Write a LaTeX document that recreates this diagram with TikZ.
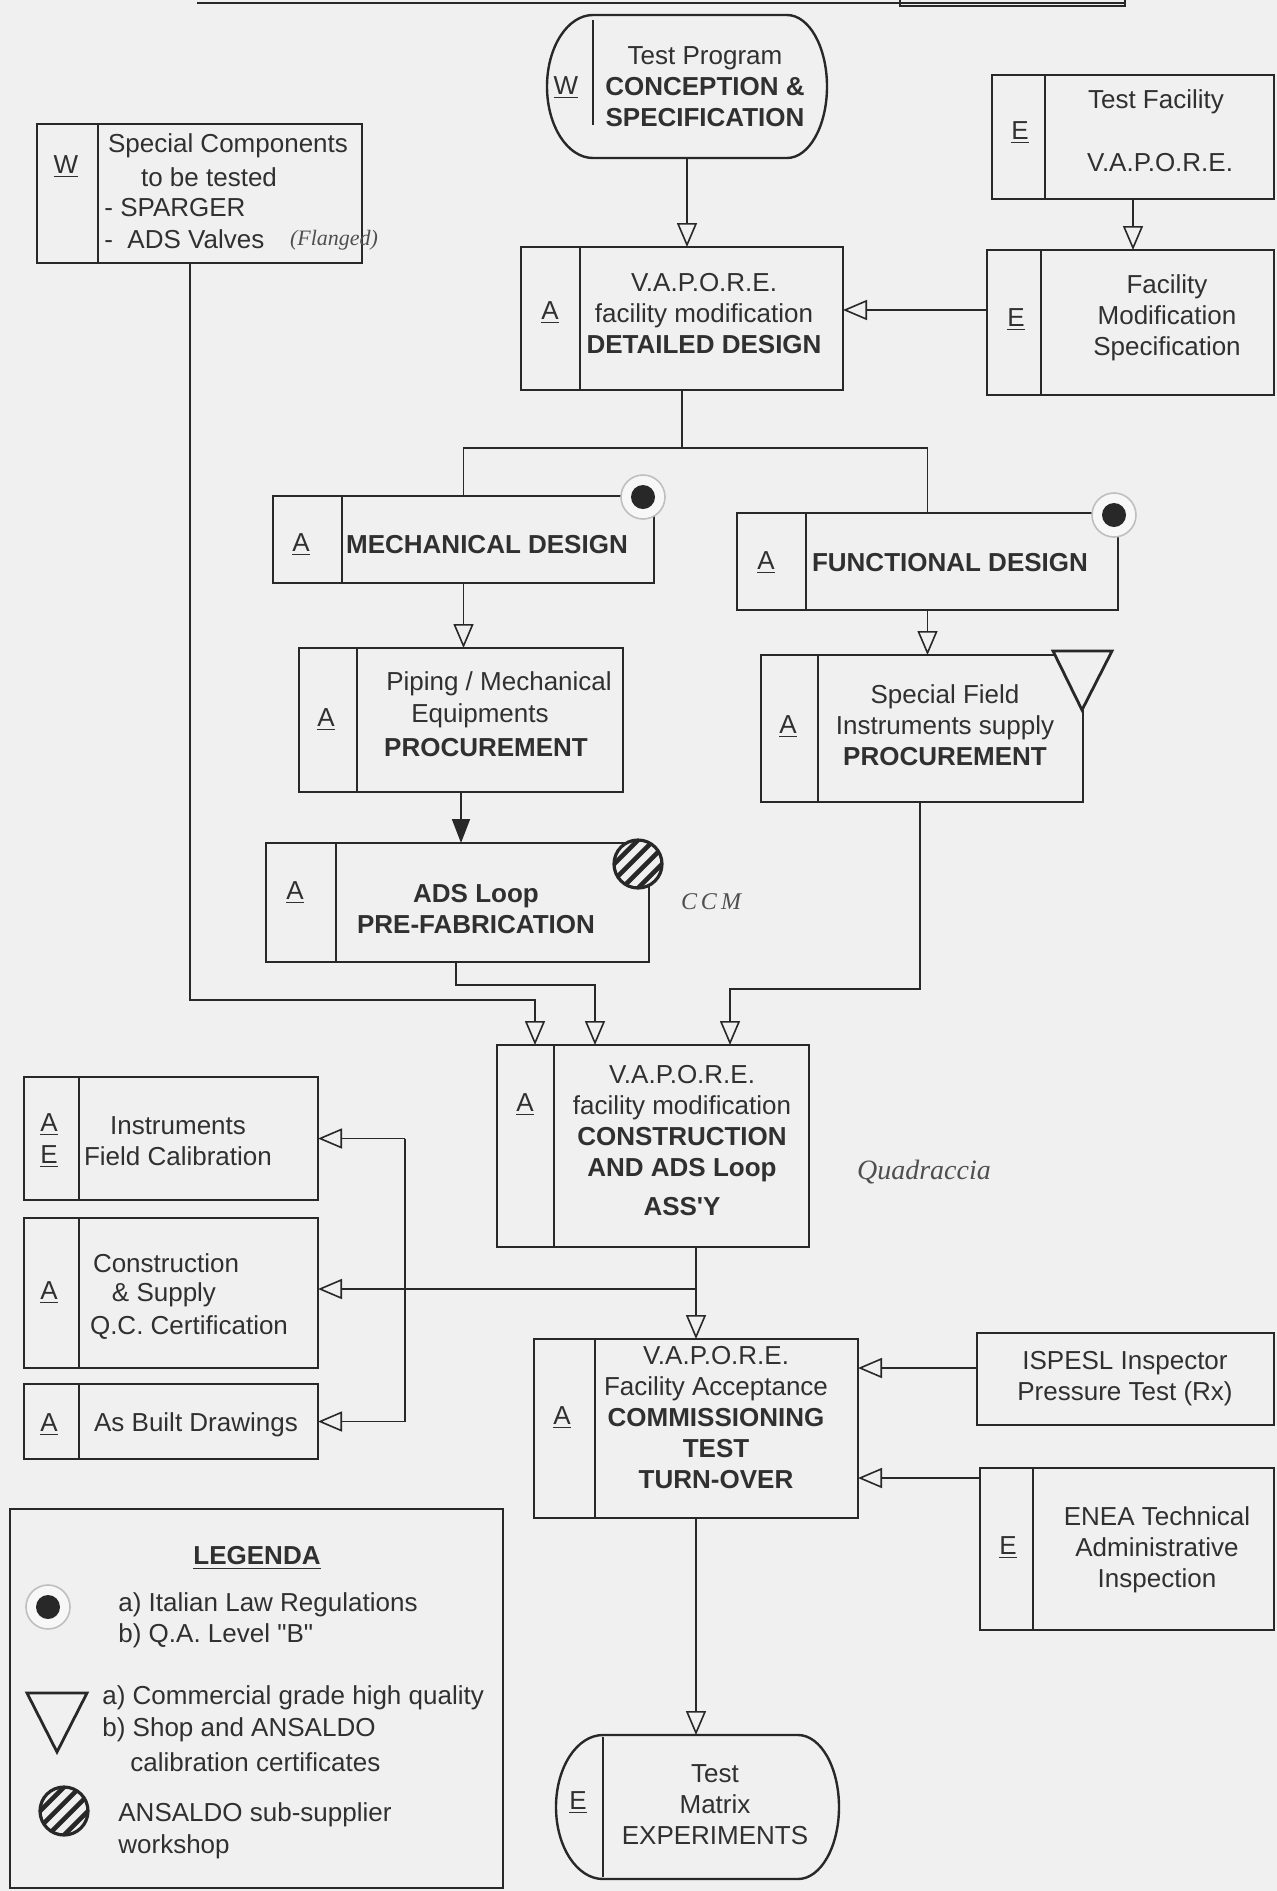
\documentclass[tikz,border=0pt]{standalone}
\usepackage{fontspec}
\setmainfont{Liberation Sans}
\newfontfamily\handfont{Liberation Serif}
\usetikzlibrary{arrows.meta,fit}
\definecolor{bg}{RGB}{240,240,240}
\definecolor{ink}{RGB}{40,40,40}
\definecolor{txtc}{RGB}{48,48,48}
\begin{document}
\begin{tikzpicture}[x=0.5pt,y=-0.5pt,
  box/.style={draw=ink, line width=1.2pt, inner sep=0pt, outer sep=0pt, rectangle},
  ghost/.style={inner sep=0pt, outer sep=0pt, rectangle},
  div/.style={draw=ink, line width=1.1pt},
  conn/.style={draw=ink, line width=0.9pt},
  oarr/.style={-{Triangle[open, length=12pt, width=10pt, line width=0.8pt]}},
  farr/.style={-{Triangle[length=12pt, width=9pt]}},
  txt/.style={text=txtc, font=\fontsize{13}{15.5}\selectfont, align=center, inner sep=0pt},
  btxt/.style={text=txtc, font=\bfseries\fontsize{13}{15.5}\selectfont, align=center, inner sep=0pt},
  ltxt/.style={text=txtc, font=\fontsize{13}{15.5}\selectfont, align=left, inner sep=0pt, anchor=west},
  lett/.style={text=txtc, font=\fontsize{13}{15.5}\selectfont, inner sep=0pt},
  hand/.style={text=txtc!85, font=\handfont\itshape\fontsize{13}{15}\selectfont, inner sep=0pt},
  hatchc/.pic={
    \fill[bg] (0,0) circle[radius=24];
    \begin{scope}
      \clip (0,0) circle[radius=24];
      \foreach \k in {-20,-12,-4,4,12,20}
        \draw[ink, line width=2.3pt] (-40+\k,40+\k) -- (40+\k,-40+\k);
    \end{scope}
    \draw[ink, line width=1.6pt] (0,0) circle[radius=24];
  },
  bulletc/.pic={
    \draw[black!25, fill=white!97!black, line width=0.8pt] (0,0) circle[radius=22];
    \fill[ink] (0,0) circle[radius=12];
  },
]
% background
\fill[bg] (0,0) rectangle (1277,1891);
\useasboundingbox (0,0) rectangle (1277,1891);

% cropped header rule
\draw[ink, line width=1pt] (197,3) -- (1125,3);
\draw[ink, line width=1.2pt] (900,0) -- (900,6) -- (1125,6) -- (1125,0);

% ---------------- boxes ----------------
% Test Program (oval)
\node[ghost, fit={(547,15)(827,158)}] (tp) {};
\draw[ink, line width=1.2pt] (593,15) -- (787,15)
  arc[start angle=-90, end angle=90, x radius=40, y radius=71.5] -- (593,158)
  arc[start angle=90, end angle=270, x radius=46, y radius=71.5] -- cycle;
\draw[div] (593,20) -- (593,125);
\node[lett] (tpl) at (566,88) {\underline{W}};
\node[txt] (tpt) at (705,87) {Test Program\\\textbf{CONCEPTION \&}\\\textbf{SPECIFICATION}};

% Special components
\node[box, fit={(37,124)(362,263)}] (sc) {};
\draw[div] (98,124) -- (98,263);
\node[lett] (scl) at (66,167) {\underline{W}};
\node[txt] (sct1) at (228,146) {Special Components};
\node[txt] (sct2) at (209,177) {to be tested};
\node[ltxt] (sct3) at (104,208) {- SPARGER};
\node[ltxt] (sct4) at (104,239) {-\ \ ADS Valves};
\node[hand, font=\handfont\itshape\fontsize{11}{12}\selectfont] (sct5) at (334,240) {(Flanged)};

% Test Facility
\node[box, fit={(992,75)(1274,199)}] (tf) {};
\draw[div] (1045,75) -- (1045,199);
\node[lett] (tfl) at (1020,133) {\underline{E}};
\node[txt] (tft1) at (1156,102) {Test Facility};
\node[txt] (tft2) at (1160,163) {V.A.P.O.R.E.};

% Detailed design
\node[box, fit={(521,247)(843,390)}] (dd) {};
\draw[div] (580,247) -- (580,390);
\node[lett] (ddl) at (550,313) {\underline{A}};
\node[txt] (ddt) at (704,314) {V.A.P.O.R.E.\\facility modification\\\textbf{DETAILED DESIGN}};

% Facility Modification Specification
\node[box, fit={(987,250)(1274,395)}] (fms) {};
\draw[div] (1041,250) -- (1041,395);
\node[lett] (fmsl) at (1016,320) {\underline{E}};
\node[txt] (fmst) at (1167,318) {Facility\\Modification\\Specification};

% Mechanical design
\node[box, fit={(273,496)(654,583)}] (md) {};
\draw[div] (342,496) -- (342,583);
\node[lett] (mdl) at (301,545) {\underline{A}};
\node[btxt] (mdt) at (487,545) {MECHANICAL DESIGN};

% Functional design
\node[box, fit={(737,513)(1118,610)}] (fd) {};
\draw[div] (806,513) -- (806,610);
\node[lett] (fdl) at (766,563) {\underline{A}};
\node[btxt] (fdt) at (950,563) {FUNCTIONAL DESIGN};

% Piping procurement
\node[box, fit={(299,648)(623,792)}] (pp) {};
\draw[div] (357,648) -- (357,792);
\node[lett] (ppl) at (326,720) {\underline{A}};
\node[txt] (ppt1) at (499,684) {Piping / Mechanical};
\node[txt] (ppt2) at (480,716) {Equipments};
\node[btxt] (ppt3) at (486,748) {PROCUREMENT};

% Special field instruments
\node[box, fit={(761,655)(1083,802)}] (sf) {};
\draw[div] (818,655) -- (818,802);
\node[lett] (sfl) at (788,727) {\underline{A}};
\node[txt] (sft) at (945,725) {Special Field\\Instruments supply\\\textbf{PROCUREMENT}};

% ADS loop prefabrication
\node[box, fit={(266,843)(649,962)}] (ads) {};
\draw[div] (336,843) -- (336,962);
\node[lett] (adsl) at (295,893) {\underline{A}};
\node[btxt] (adst) at (476,909) {ADS Loop\\PRE-FABRICATION};
\node[hand, font=\handfont\itshape\fontsize{12}{14}\selectfont] (ccm) at (711,902) {C\,C\,M};

% Construction
\node[box, fit={(497,1045)(809,1247)}] (cs) {};
\draw[div] (554,1045) -- (554,1247);
\node[lett] (csl) at (525,1105) {\underline{A}};
\node[txt] (cst) at (682,1141) {V.A.P.O.R.E.\\facility modification\\\textbf{CONSTRUCTION}\\\textbf{AND ADS Loop}\\[4pt]\textbf{ASS\textquotesingle Y}};
\node[hand, font=\handfont\itshape\fontsize{14}{16}\selectfont] (sig) at (924,1172) {Quadraccia};

% Left column boxes
\node[box, fit={(24,1077)(318,1200)}] (ifc) {};
\draw[div] (79,1077) -- (79,1200);
\node[lett] (ifcl1) at (49,1125) {\underline{A}};
\node[lett] (ifcl2) at (49,1157) {\underline{E}};
\node[txt] (ifct) at (178,1141) {Instruments\\Field Calibration};

\node[box, fit={(24,1218)(318,1368)}] (qc) {};
\draw[div] (79,1218) -- (79,1368);
\node[lett] (qcl) at (49,1293) {\underline{A}};
\node[txt] (qct1) at (166,1263) {Construction};
\node[txt] (qct2) at (164,1295) {\& Supply};
\node[txt] (qct3) at (189,1328) {Q.C. Certification};

\node[box, fit={(24,1384)(318,1459)}] (abd) {};
\draw[div] (79,1384) -- (79,1459);
\node[lett] (abdl) at (49,1425) {\underline{A}};
\node[txt] (abdt) at (196,1425) {As Built Drawings};

% Commissioning
\node[box, fit={(534,1339)(858,1518)}] (cm) {};
\draw[div] (595,1339) -- (595,1518);
\node[lett] (cml) at (562,1418) {\underline{A}};
\node[txt] (cmt) at (716,1418) {V.A.P.O.R.E.\\Facility Acceptance\\\textbf{COMMISSIONING}\\\textbf{TEST}\\\textbf{TURN-OVER}};

% ISPESL
\node[box, fit={(977,1333)(1274,1425)}] (isp) {};
\node[txt] (ispt) at (1125,1379) {ISPESL Inspector\\Pressure Test (Rx)};

% ENEA
\node[box, fit={(980,1468)(1274,1630)}] (en) {};
\draw[div] (1033,1468) -- (1033,1630);
\node[lett] (enl) at (1008,1548) {\underline{E}};
\node[txt] (ent) at (1157,1550) {ENEA Technical\\Administrative\\Inspection};

% Test Matrix (oval)
\node[ghost, fit={(556,1735)(839,1879)}] (tm) {};
\draw[ink, line width=1.2pt] (603,1735) -- (798,1735)
  arc[start angle=-90, end angle=90, x radius=41, y radius=72] -- (603,1879)
  arc[start angle=90, end angle=270, x radius=47, y radius=72] -- cycle;
\draw[div] (603,1737) -- (603,1877);
\node[lett] (tml) at (578,1803) {\underline{E}};
\node[txt] (tmt) at (715,1805) {Test\\Matrix\\EXPERIMENTS};

% ---------------- connectors ----------------
\coordinate (fmsy) at (0,310);
\coordinate (split) at (682,448);
\coordinate (sc1) at (190,1000);
\coordinate (cs1) at (535,1000);
\coordinate (ad1) at (456,985);
\coordinate (cs2) at (595,985);
\coordinate (sf1) at (920,989);
\coordinate (cs3) at (730,989);
\coordinate (vx) at (405,1289);
\coordinate (ia) at (0,1368);
\coordinate (ea) at (0,1478);

\draw[conn,oarr] (tp.south) -- (tp.south |- dd.north);
\draw[conn,oarr] (tf.south) -- (tf.south |- fms.north);
\draw[conn,oarr] (fms.west |- fmsy) -- (dd.east |- fmsy);
\draw[conn] (dd.south) -- (split);
\draw[conn] (md.north) |- (split) -| (fd.north);
\draw[conn,oarr] (md.south) -- (md.south |- pp.north);
\draw[conn,oarr] (fd.south) -- (fd.south |- sf.north);
\draw[conn,farr] (pp.south) -- (pp.south |- ads.north);
\draw[conn,oarr] (sc.south -| sc1) -- (sc1) -- (cs1) -- (cs1 |- cs.north);
\draw[conn,oarr] (ads.south -| ad1) -- (ad1) -- (cs2) -- (cs2 |- cs.north);
\draw[conn,oarr] (sf.south -| sf1) -- (sf1) -- (cs3) -- (cs3 |- cs.north);
\draw[conn,oarr] (cm.north |- cs.south) -- (cm.north);
\draw[conn,oarr] (cm.north |- vx) -- (vx) -- (vx -| qc.east);
\draw[conn] (vx |- ifc.east) -- (vx |- abd.east);
\draw[conn,oarr] (vx |- ifc.east) -- (ifc.east);
\draw[conn,oarr] (vx |- abd.east) -- (abd.east);
\draw[conn,oarr] (isp.west |- ia) -- (cm.east |- ia);
\draw[conn,oarr] (en.west |- ea) -- (cm.east |- ea);
\draw[conn,oarr] (cm.south) -- (cm.south |- tm.north);

% ---------------- symbols ----------------
\pic at (643,497) {bulletc};
\pic at (1114,515) {bulletc};
\draw[ink, line width=1.4pt, fill=bg, line join=miter] (1053,651) -- (1112,651) -- (1082,710) -- cycle;
\pic at (638,864) {hatchc};

% ---------------- legend ----------------
\node[box, fit={(10,1509)(503,1888)}] (lg) {};
\node[btxt] (lgt) at (257,1558) {\underline{LEGENDA}};
\pic at (48,1607) {bulletc};
\node[ltxt] (lg1) at (118,1605) {a) Italian Law Regulations};
\node[ltxt] (lg2) at (118,1636) {b) Q.A. Level \textquotedbl B\textquotedbl};
\draw[ink, line width=1.4pt, line join=miter] (27,1693) -- (87,1693) -- (57,1752) -- cycle;
\node[ltxt] (lg3) at (102,1698) {a) Commercial grade high quality};
\node[ltxt] (lg4) at (102,1730) {b) Shop and ANSALDO};
\node[ltxt] (lg5) at (130,1762) {calibration certificates};
\pic at (64,1811) {hatchc};
\node[ltxt] (lg6) at (118,1815) {ANSALDO sub-supplier};
\node[ltxt] (lg7) at (118,1847) {workshop};
\end{tikzpicture}
\end{document}
